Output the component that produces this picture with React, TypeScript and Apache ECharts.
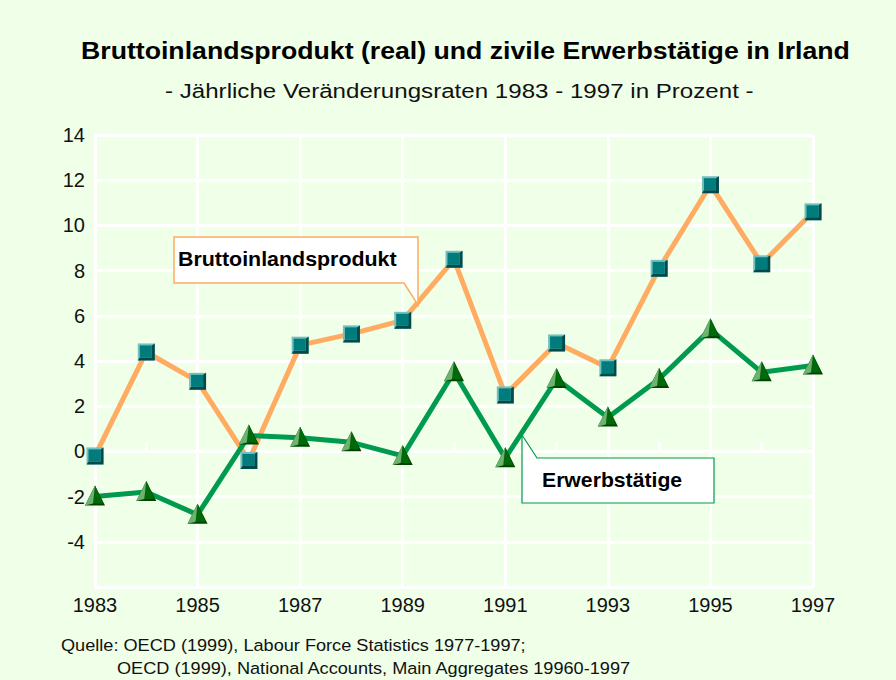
import React, { useEffect, useRef } from "react";
import * as echarts from "echarts";

const years = ["1983","1984","1985","1986","1987","1988","1989","1990","1991","1992","1993","1994","1995","1996","1997"];
const gdp = [-0.2, 4.4, 3.1, -0.4, 4.7, 5.2, 5.8, 8.5, 2.5, 4.8, 3.7, 8.1, 11.8, 8.3, 10.6];
const employed = [-2.0, -1.8, -2.8, 0.7, 0.6, 0.4, -0.2, 3.5, -0.3, 3.2, 1.5, 3.2, 5.4, 3.5, 3.8];

const titleText = "Bruttoinlandsprodukt (real) und zivile Erwerbstätige in Irland";
const subtitleText = "- Jährliche Veränderungsraten 1983 - 1997 in Prozent -";
const sourceLine1 = "Quelle: OECD (1999), Labour Force Statistics 1977-1997;";
const sourceLine2 = "OECD (1999), National Accounts, Main Aggregates 19960-1997";
const gdpLabel = "Bruttoinlandsprodukt";
const empLabel = "Erwerbstätige";

const FONT = "'Liberation Sans', Arial, sans-serif";
const BG = "#EFFFE8";
const ORANGE = "#FFAC62";
const GREEN = "#009A4E";

function squareMarker(params: any, api: any) {
  const p = api.coord([api.value(0), api.value(1)]);
  const h = 8.5;
  const x = p[0], y = p[1];
  return {
    type: "group",
    children: [
      { type: "polygon", shape: { points: [[x - h, y - h], [x + h, y - h], [x + h, y + h], [x - h, y + h]] }, style: { fill: "#74BFBF" } },
      { type: "polygon", shape: { points: [[x + h, y - h], [x + h, y + h], [x - h, y + h], [x - h + 2, y + h - 3], [x + h - 3, y + h - 3], [x + h - 3, y - h + 2]] }, style: { fill: "#004A4A" } },
      { type: "rect", shape: { x: x - h + 2, y: y - h + 2, width: 2 * h - 5, height: 2 * h - 5 }, style: { fill: "#007C7C" } },
    ],
  };
}

function triangleMarker(params: any, api: any) {
  const p = api.coord([api.value(0), api.value(1)]);
  const x = p[0], y = p[1];
  const w = 10, top = -11, bot = 9;
  return {
    type: "group",
    children: [
      { type: "polygon", shape: { points: [[x, y + top], [x + w, y + bot], [x - w, y + bot]] }, style: { fill: "#004400" } },
      { type: "polygon", shape: { points: [[x, y + top], [x + w - 2, y + bot - 2], [x - 2, y + bot - 2]] }, style: { fill: "#006A0A" } },
      { type: "polygon", shape: { points: [[x, y + top], [x - 2, y + bot - 2], [x - w, y + bot]] }, style: { fill: "#6DB36F" } },
    ],
  };
}

function label(text: string, x: number, y: number, font: string, scaleX: number, fill = "#000", z = 11) {
  return {
    type: "text",
    x,
    y,
    scaleX,
    z,
    style: { text, fill, font, textAlign: "left", textVerticalAlign: "middle" },
  };
}

export default function App() {
  const ref = useRef<HTMLDivElement>(null);
  useEffect(() => {
    if (!ref.current) return;
    const chart = echarts.init(ref.current, undefined, { renderer: "svg" });
    const idx = years.map((_, i) => i);
    chart.setOption({
      animation: false,
      backgroundColor: BG,
      grid: { left: 95, right: 83, top: 135, bottom: 93, containLabel: false },
      xAxis: {
        type: "category",
        data: years,
        boundaryGap: false,
        axisLine: { lineStyle: { color: "#FFFFFF", width: 3 } },
        axisTick: { show: true, inside: true, length: 9, interval: 0, lineStyle: { color: "#FFFFFF", width: 3 } },
        axisLabel: { interval: 1, color: "#111", fontSize: 20, fontFamily: FONT, margin: 8 },
        splitLine: { show: true, interval: 1, lineStyle: { color: "#FFFFFF", width: 3 } },
      },
      yAxis: {
        type: "value",
        min: -6,
        max: 14,
        interval: 2,
        axisLine: { show: true, lineStyle: { color: "#FFFFFF", width: 3 } },
        axisTick: { show: false },
        axisLabel: {
          color: "#111",
          fontSize: 20,
          fontFamily: FONT,
          margin: 10,
          formatter: (v: number) => (v === -6 ? "" : String(v)),
        },
        splitLine: { show: true, lineStyle: { color: "#FFFFFF", width: 3 } },
      },
      series: [
        { type: "line", data: gdp, symbol: "none", lineStyle: { color: ORANGE, width: 5 }, z: 2 },
        { type: "line", data: employed, symbol: "none", lineStyle: { color: GREEN, width: 5 }, z: 2 },
        { type: "custom", data: idx.map((i) => [i, gdp[i]]), renderItem: squareMarker, z: 5 },
        { type: "custom", data: idx.map((i) => [i, employed[i]]), renderItem: triangleMarker, z: 5 },
      ],
      graphic: [
        label(titleText, 81, 51, `bold 23px ${FONT}`, 1.16),
        label(subtitleText, 165, 91, `21px ${FONT}`, 1.149, "#111"),
        {
          type: "polygon",
          shape: { points: [[174, 237], [418, 237], [418, 305], [404, 283], [174, 283]] },
          style: { fill: "#FFFFFF", stroke: ORANGE, lineWidth: 1.5 },
          z: 10,
        },
        label(gdpLabel, 178, 258.5, `bold 20px ${FONT}`, 1.07),
        {
          type: "polygon",
          shape: { points: [[522, 435], [537, 458], [714, 458], [714, 503], [522, 503]] },
          style: { fill: "#FFFFFF", stroke: GREEN, lineWidth: 1.2 },
          z: 10,
        },
        label(empLabel, 542, 479.5, `bold 20px ${FONT}`, 1.06),
        label(sourceLine1, 61, 645.5, `16.5px ${FONT}`, 1.1, "#111"),
        label(sourceLine2, 117, 668.5, `16.5px ${FONT}`, 1.1, "#111"),
      ],
    });
    return () => chart.dispose();
  }, []);
  return <div ref={ref} style={{ position: "fixed", left: 0, top: 0, width: 896, height: 680 }} />;
}
